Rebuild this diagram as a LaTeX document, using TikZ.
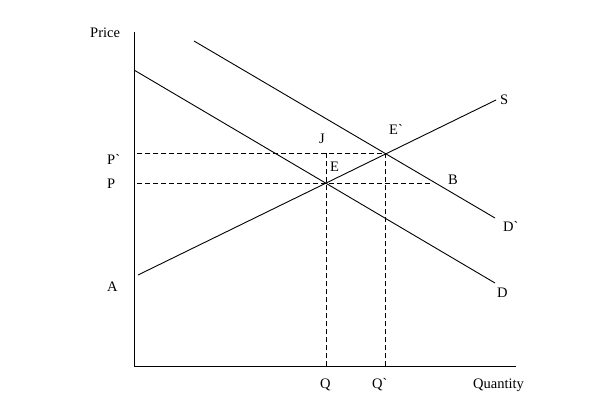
\documentclass[tikz,border=0pt]{standalone}
\usepackage{fontspec}
\setmainfont{Liberation Serif}[Ligatures=TeXOff]
\usepackage{tikz}
\usetikzlibrary{positioning,calc}

\tikzset{
  curve/.style={line width=0.9pt, black},
  guide/.style={line width=0.9pt, dash pattern=on 5pt off 3pt},
  lbl/.style={anchor=base west, inner sep=0pt, font=\fontsize{14.5}{17}\selectfont}
}

\begin{document}
\begin{tikzpicture}[x=1pt, y=-1pt]
\useasboundingbox (0,0) rectangle (600,405);

% Axes
\coordinate (O) at (134, 366);
\coordinate (ytop) at (134, 32);
\coordinate (xend) at (516, 366);
\draw[curve] (ytop) -- (O) -- (xend);

% Curves
\coordinate (D0) at (134, 70);
\coordinate (D1) at (495, 283);
\coordinate (Dp0) at (194, 41);
\coordinate (Dp1) at (495, 218);
\coordinate (S0) at (138, 275);
\coordinate (S1) at (496, 100);
\draw[curve] (D0) -- (D1);
\draw[curve] (Dp0) -- (Dp1);
\draw[curve] (S0) -- (S1);

% Equilibria and guides
\coordinate (E) at (326, 183);
\coordinate (Ep) at (385, 153);
\coordinate (Pa) at (137, 183);
\coordinate (Pb) at (137, 153);
\coordinate (Bp) at (432, 183);
\coordinate (Jp) at (326, 153);
\coordinate (Qa) at (326, 366);
\coordinate (Qb) at (385, 366);
\draw[guide] (Pa) -- (E) -- (Bp);
\draw[guide] (Pb) -- (Ep);
\draw[guide] (Jp) -- (Qa);
\draw[guide] (Ep) -- (Qb);

% Labels
\node[lbl] (price) at (90, 37) {Price};
\node[lbl] (pp) at (107, 164) {P`};
\node[lbl] (p) at (107, 188) {P};
\node[lbl] (a) at (107, 291) {A};
\node[lbl] (q) at (320, 388) {Q};
\node[lbl] (qp) at (372, 388) {Q`};
\node[lbl] (qty) at (473, 388) {Quantity};
\node[lbl] (j) at (319, 143) {J};
\node[lbl] (e) at (330, 171) {E};
\node[lbl] (ep) at (389, 134) {E`};
\node[lbl] (b) at (448, 184) {B};
\node[lbl] (s) at (500, 104) {S};
\node[lbl] (dp) at (503, 231) {D`};
\node[lbl] (d) at (497, 297) {D};
\end{tikzpicture}
\end{document}
